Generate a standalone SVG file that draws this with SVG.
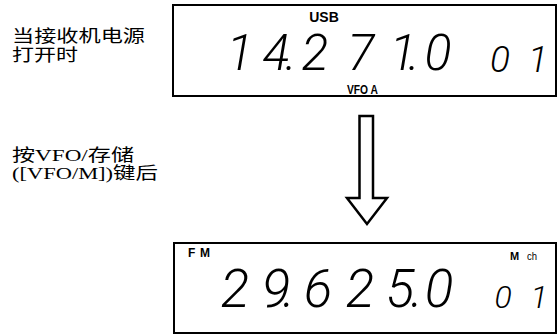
<svg xmlns="http://www.w3.org/2000/svg" width="559" height="336" viewBox="0 0 559 336">
<style>
.box{fill:#fff;stroke:#000;stroke-width:2}
.cjk{font-family:"Liberation Sans","Noto Sans CJK SC",sans-serif;font-size:17px;fill:#000}
.cjk2{font-family:"Liberation Serif","Noto Sans CJK SC",serif;font-size:17px;fill:#000}
.ind{font-family:"Liberation Sans",Arial,sans-serif;font-weight:bold;fill:#000}
.seg{font-family:Roboto,"Liberation Sans",sans-serif;font-style:italic;font-weight:300;fill:#000;text-anchor:middle}
</style>
<g id="label-power-on">
<text class="cjk" x="12" y="41.5" textLength="133" lengthAdjust="spacingAndGlyphs">当接收机电源</text>
<text class="cjk" x="12" y="61" textLength="66" lengthAdjust="spacingAndGlyphs">打开时</text>
</g>
<g id="display-top">
<rect class="box" x="173" y="5" width="383" height="91"/>
<text class="ind" x="324" y="22" font-size="14" text-anchor="middle">USB</text>
<text class="seg" font-size="50" x="240 276 291 315 361 403 414 438" y="70">14.271.0</text>
<text class="seg" font-size="37" x="500 538" y="72">01</text>
<text class="ind" x="347" y="94" font-size="12" textLength="31" lengthAdjust="spacingAndGlyphs">VFO A</text>
</g>
<g id="label-press">
<text class="cjk2" x="12" y="161" textLength="122" lengthAdjust="spacingAndGlyphs">按VFO/存储</text>
<text class="cjk2" x="12" y="179" textLength="146" lengthAdjust="spacingAndGlyphs">([VFO/M])键后</text>
</g>
<g id="connectors">
<path d="M359.5,116 H373 V198 H387 L367,224 L347,198 H359.5 Z" fill="#fff" stroke="#000" stroke-width="2.5" stroke-linejoin="miter"/>
</g>
<g id="display-bottom">
<rect class="box" x="174" y="243" width="382" height="90"/>
<text class="ind" x="188" y="257" font-size="12" textLength="22" lengthAdjust="spacing">FM</text>
<text class="ind" x="510" y="260" font-size="11">M</text>
<text x="527" y="260" font-family="Liberation Sans,Arial,sans-serif" font-size="11" fill="#000" textLength="10" lengthAdjust="spacingAndGlyphs">ch</text>
<text class="seg" font-size="53" x="235 276 289 318 360 400 417 439" y="307">29.625.0</text>
<text class="seg" font-size="32" x="503 539" y="308">01</text>
</g>
</svg>
